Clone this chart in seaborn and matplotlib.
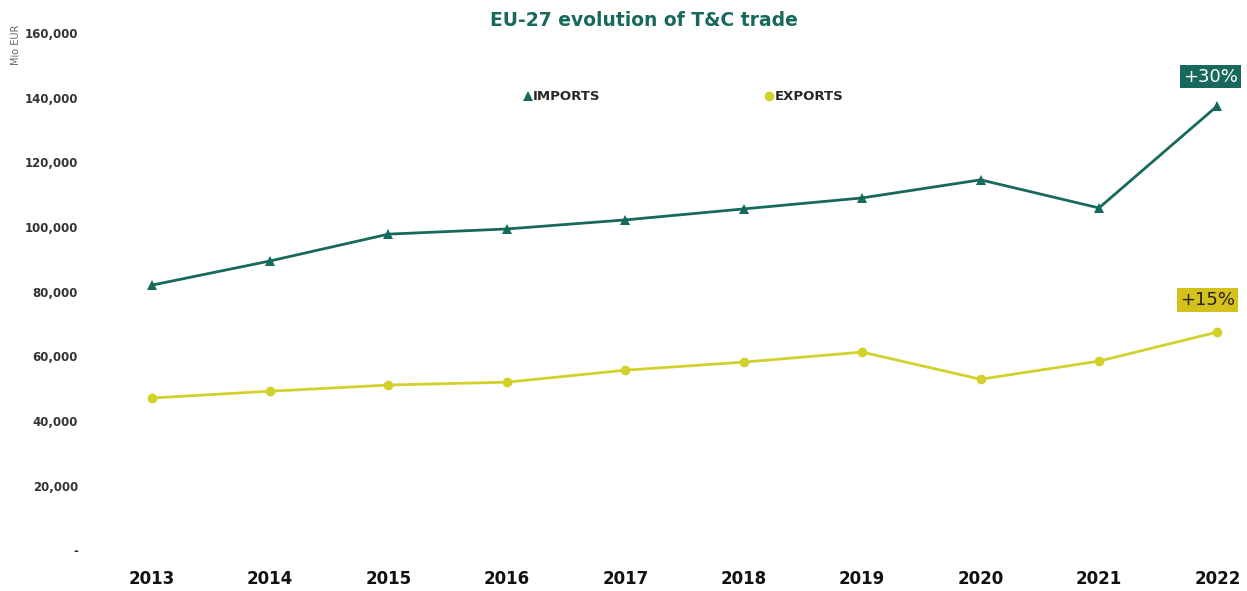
import numpy as np
import pandas as pd
import seaborn as sns
import matplotlib.pyplot as plt
from matplotlib.ticker import FuncFormatter

years = [2013, 2014, 2015, 2016, 2017, 2018, 2019, 2020, 2021, 2022]
imports = [82000, 89500, 97800, 99400, 102200, 105600, 109000, 114600, 105900, 137500]
exports = [47100, 49200, 51100, 52000, 55700, 58200, 61300, 52900, 58500, 67500]

teal = '#16695c'
yellow = '#d2d12c'

df = pd.DataFrame({'year': years * 2,
                   'value': imports + exports,
                   'flow': ['IMPORTS'] * len(years) + ['EXPORTS'] * len(years)})

sns.set_style('white')
plt.rcParams['font.family'] = ['DejaVu Sans']

fig = plt.figure(figsize=(12.47, 5.91), dpi=100)
ax = fig.add_axes([0.076, 0.069, 0.924, 0.875])

sns.lineplot(data=df, x='year', y='value', hue='flow', style='flow',
             palette={'IMPORTS': teal, 'EXPORTS': yellow},
             markers={'IMPORTS': '^', 'EXPORTS': 'o'}, dashes=False,
             markersize=7, markeredgewidth=0, linewidth=2.0, ax=ax)

ax.set_xlim(2012.52, 2022.25)
ax.set_ylim(0, 160000)
ax.set_yticks(np.arange(0, 160001, 20000))
ax.yaxis.set_major_formatter(FuncFormatter(lambda v, p: '-' if v == 0 else f'{int(v):,}'))
ax.set_xticks(years)
ax.tick_params(axis='y', labelsize=8.5, colors='#333333', length=0, pad=12)
ax.tick_params(axis='x', labelsize=12, colors='#111111', length=0, pad=14)
for lab in ax.get_yticklabels() + ax.get_xticklabels():
    lab.set_fontweight('bold')
for s in ax.spines.values():
    s.set_visible(False)
ax.set_xlabel('')
ax.set_ylabel('')
fig.text(0.013, 0.925, 'Mio EUR', rotation=90, fontsize=7, color='#666666', ha='center', va='center')

fig.text(0.516, 0.966, 'EU-27 evolution of T&C trade', fontsize=13.5, fontweight='bold',
         color=teal, ha='center', va='center')

leg = ax.legend(loc='center', bbox_to_anchor=(0.511, 0.877), ncol=2, frameon=False,
                handlelength=0.6, handletextpad=0.1, columnspacing=12.5,
                prop={'weight': 'bold', 'size': 9.5})
for h in leg.legend_handles:
    h.set_linewidth(0)

ax.annotate('+30%', (2022, imports[-1]), xytext=(-5, 21), textcoords='offset points',
            ha='center', va='center', fontsize=13, color='white',
            bbox=dict(boxstyle='square,pad=0.15', fc=teal, ec='none'))
ax.annotate('+15%', (2022, exports[-1]), xytext=(-7, 23), textcoords='offset points',
            ha='center', va='center', fontsize=13, color='#222222',
            bbox=dict(boxstyle='square,pad=0.15', fc='#d4c11c', ec='none'))

fig.savefig('out.png', dpi=100)
